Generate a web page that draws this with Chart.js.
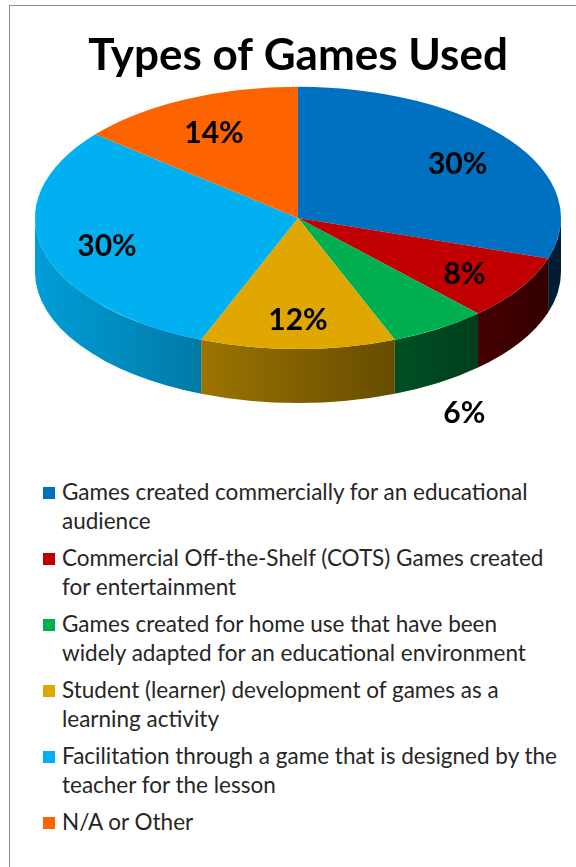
<!DOCTYPE html>
<html>
<head>
<meta charset="utf-8">
<script src="https://cdn.jsdelivr.net/npm/chart.js@4.4.1/dist/chart.umd.min.js"></script>
<style>
  html, body { margin: 0; padding: 0; background: #fff; }
  #page { position: relative; width: 576px; height: 867px; overflow: hidden; }
  #frame { position: absolute; left: 9px; top: 5px; right: -2px; bottom: -2px;
           border-top: 1px solid #8c8c8c; border-left: 1px solid #8c8c8c; }
  #pie-wrap { position: absolute; left: 0; top: 0; width: 576px; height: 440px; }
  #legend { position: absolute; left: 43px; top: 477px; font-family: Lato, sans-serif;
            font-size: 22.5px; line-height: 29px; color: #262626; }
  #legend .item { position: relative; padding-left: 19px; margin-bottom: 8px; white-space: nowrap; }
  #legend .box { position: absolute; left: 0; top: 10px; width: 12px; height: 12px; }
</style>
</head>
<body>
<div id="page">
  <div id="frame"></div>
  <div id="pie-wrap"><canvas id="pie-games"></canvas></div>
  <div id="legend"></div>
</div>
<script>
  // legend text, one entry per line
  const categories = [
    ['Games created commercially for an educational', 'audience'],
    ['Commercial Off-the-Shelf (COTS) Games created', 'for entertainment'],
    ['Games created for home use that have been', 'widely adapted for an educational environment'],
    ['Student (learner) development of games as a', 'learning activity'],
    ['Facilitation through a game that is designed by the', 'teacher for the lesson'],
    ['N/A or Other'],
  ]
  const shares = [30, 8, 6, 12, 30, 14]
  const sliceColors = ['#0070c0', '#c00000', '#00b050', '#dfa700', '#00b0f0', '#fd6400']
  // where each percentage sits: on the slice or below the pie
  const labelSpots = ['in', 'in', 'out', 'in', 'in', 'in']

  function shade(hex, k) {
    const n = parseInt(hex.slice(1), 16)
    const r = Math.round(((n >> 16) & 255) * k)
    const g = Math.round(((n >> 8) & 255) * k)
    const b = Math.round((n & 255) * k)
    return `rgb(${r},${g},${b})`
  }

  // squash the pie into the chart area and give it a side wall
  const pie3d = {
    id: 'pie3d',
    beforeDatasetsDraw(chart, args, opts) {
      const meta = chart.getDatasetMeta(0)
      const { x, y, outerRadius: r } = meta.data[0]
      const area = chart.chartArea
      const kx = area.width / 2 / r
      const ky = area.height / 2 / r
      const ctx = chart.ctx
      ctx.save()
      ctx.translate(x, y)
      ctx.scale(kx, ky)
      ctx.translate(-x, -y)
      const d = opts.depth / ky
      meta.data.forEach((arc, i) => {
        const a0 = Math.max(arc.startAngle, 0)
        const a1 = Math.min(arc.endAngle, Math.PI)
        if (a1 <= a0) return
        const grad = ctx.createLinearGradient(x - r, 0, x + r, 0)
        grad.addColorStop(0, shade(sliceColors[i], 0.9))
        grad.addColorStop(1, shade(sliceColors[i], 0.25))
        ctx.beginPath()
        ctx.arc(x, y, r, a0, a1)
        ctx.arc(x, y + d, r, a1, a0, true)
        ctx.closePath()
        ctx.fillStyle = grad
        ctx.fill()
      })
    },
    afterDatasetsDraw(chart, args, opts) {
      const ctx = chart.ctx
      ctx.restore()
      const meta = chart.getDatasetMeta(0)
      const area = chart.chartArea
      ctx.save()
      ctx.font = 'bold 30px Lato'
      ctx.fillStyle = '#000'
      ctx.textAlign = 'center'
      ctx.textBaseline = 'middle'
      meta.data.forEach((arc, i) => {
        const mid = (arc.startAngle + arc.endAngle) / 2
        const rx = area.width / 2, ry = area.height / 2
        let px, py
        if (labelSpots[i] === 'out') {
          px = arc.x + rx * 1.18 * Math.cos(mid)
          py = arc.y + ry * 1.18 * Math.sin(mid) + opts.depth + 11
        } else {
          px = arc.x + rx * 0.75 * Math.cos(mid)
          py = arc.y + ry * 0.75 * Math.sin(mid) + 4
        }
        ctx.fillText(shares[i] + '%', px, py)
      })
      ctx.restore()
    },
  }

  const pieConfigGames = {
    type: 'pie',
    data: {
      labels: categories,
      datasets: [
        {
          data: shares,
          backgroundColor: sliceColors,
          borderWidth: 0,
          hoverOffset: 0,
          clip: false,
        },
      ],
    },
    options: {
      responsive: true,
      maintainAspectRatio: false,
      animation: false,
      events: [],
      layout: {
        padding: { left: 35, right: 15, top: 0, bottom: 91 },
      },
      plugins: {
        legend: { display: false },
        tooltip: { enabled: false },
        title: {
          display: true,
          text: 'Types of Games Used',
          color: '#000',
          font: { family: 'Lato', size: 44, weight: 'bold' },
          padding: { top: 29, bottom: 5 },
        },
        pie3d: { depth: 54 },
      },
    },
    plugins: [pie3d],
  }

  const pieGames = document.getElementById('pie-games')
  window.myPie = new Chart(pieGames, pieConfigGames)

  // legend built from the same categories and colours
  const legend = document.getElementById('legend')
  categories.forEach((lines, i) => {
    const item = document.createElement('div')
    item.className = 'item'
    const box = document.createElement('span')
    box.className = 'box'
    box.style.background = sliceColors[i]
    item.appendChild(box)
    lines.forEach(line => {
      const row = document.createElement('div')
      row.textContent = line
      item.appendChild(row)
    })
    legend.appendChild(item)
  })
</script>
</body>
</html>
